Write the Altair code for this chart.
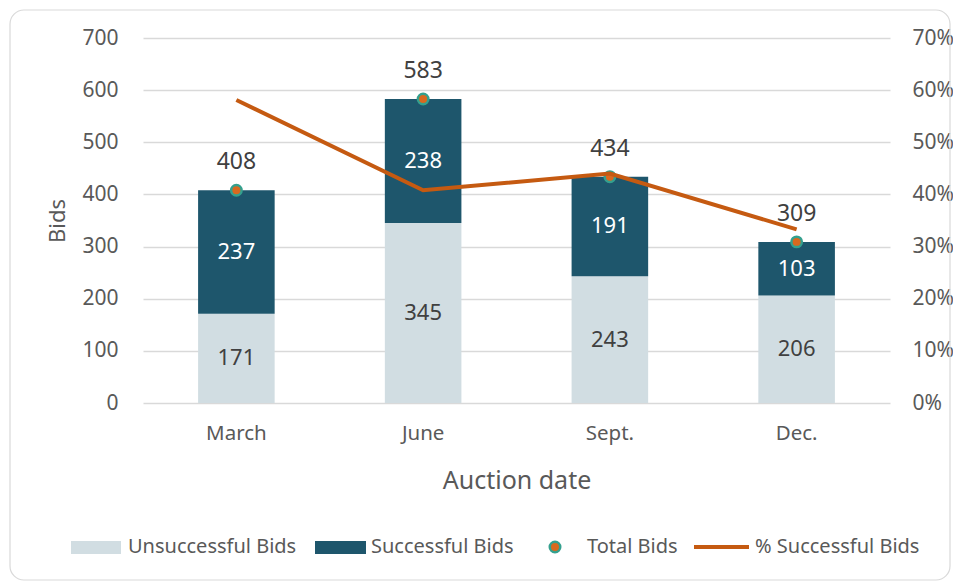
import altair as alt
import pandas as pd

dates = ["March", "June", "Sept.", "Dec."]
unsuccessful = [171, 345, 243, 206]
successful = [237, 238, 191, 103]
total_bids = [408, 583, 434, 309]
pct_successful = [0.581, 0.408, 0.440, 0.333]

series_names = ["Unsuccessful Bids", "Successful Bids"]
colors = ["#d1dde2", "#1e566c"]

rows = []
for i, d in enumerate(dates):
    rows.append({"date": d, "series": series_names[0], "value": unsuccessful[i], "ord": 0})
    rows.append({"date": d, "series": series_names[1], "value": successful[i], "ord": 1})
bars_df = pd.DataFrame(rows)
tot_df = pd.DataFrame({"date": dates, "total": total_bids, "pct": pct_successful})

FONT = "Noto Sans"
GRAY = "#595959"
TICK = 21

x_enc = alt.X("date:N", sort=dates,
              scale=alt.Scale(paddingInner=0.59, paddingOuter=0.295),
              axis=alt.Axis(title="Auction date", labelFontSize=20.5, labelColor=GRAY,
                            titleFontSize=25, titleColor=GRAY, titleFontWeight="normal",
                            labelPadding=20, titlePadding=25, ticks=False, domain=False,
                            labelAngle=0, grid=False))

y_left = alt.Scale(domain=[0, 700])

base_bars = alt.Chart(bars_df).transform_stack(
    stack="value", groupby=["date"], as_=["y0", "y1"],
    sort=[alt.SortField("ord", order="ascending")]
).transform_calculate(mid="(datum.y0 + datum.y1) / 2")

bars = base_bars.mark_bar().encode(
    x=x_enc,
    y=alt.Y("y0:Q", scale=y_left,
            axis=alt.Axis(title="Bids", values=list(range(0, 701, 100)), labelFontSize=TICK,
                          labelColor=GRAY, titleFontSize=22, titleColor=GRAY,
                          titleFontWeight="normal", labelPadding=25, titlePadding=12,
                          ticks=False, domain=False, gridColor="#d9d9d9", gridWidth=1.5)),
    y2="y1:Q",
    color=alt.Color("series:N", scale=alt.Scale(domain=series_names, range=colors), legend=None),
)

bar_text = base_bars.mark_text(fontSize=22, font=FONT, baseline="middle").encode(
    x=alt.X("date:N", sort=dates),
    y=alt.Y("mid:Q", scale=y_left),
    text="value:Q",
    color=alt.condition("datum.ord == 0", alt.value("#404040"), alt.value("#ffffff")),
)

points = alt.Chart(tot_df).mark_point(filled=True, size=110, fill="#d9691f",
                                      stroke="#34a08e", strokeWidth=2.5, opacity=1).encode(
    x=alt.X("date:N", sort=dates),
    y=alt.Y("total:Q", scale=y_left),
)

tot_text = alt.Chart(tot_df).mark_text(fontSize=23, font=FONT, dy=-28, color="#404040",
                                       baseline="middle").encode(
    x=alt.X("date:N", sort=dates),
    y=alt.Y("total:Q", scale=y_left),
    text="total:Q",
)

line = alt.Chart(tot_df).mark_line(color="#c55a11", strokeWidth=4).encode(
    x=alt.X("date:N", sort=dates),
    y=alt.Y("pct:Q", scale=alt.Scale(domain=[0, 0.7]),
            axis=alt.Axis(orient="right", title=None, format=".0%",
                          values=[0, 0.1, 0.2, 0.3, 0.4, 0.5, 0.6, 0.7],
                          labelFontSize=TICK, labelColor=GRAY, labelPadding=22,
                          ticks=False, domain=False, grid=False)),
)

one = alt.Data(values=[{"a": 1}])

frame = alt.Chart(one).mark_rect(fill="transparent", stroke="#d9d9d9", strokeWidth=1.2,
                                 cornerRadius=14).encode(
    x=alt.value(-133), x2=alt.value(807), y=alt.value(-28), y2=alt.value(542))

LY = 509
LFS = 20
leg = [
    alt.Chart(one).mark_rect(color=colors[0]).encode(
        x=alt.value(-72), x2=alt.value(-22), y=alt.value(LY - 6), y2=alt.value(LY + 7)),
    alt.Chart(one).mark_text(text="Unsuccessful Bids", align="left", baseline="middle",
                             fontSize=LFS, font=FONT, color=GRAY).encode(
        x=alt.value(-15), y=alt.value(LY)),
    alt.Chart(one).mark_rect(color=colors[1]).encode(
        x=alt.value(172), x2=alt.value(223), y=alt.value(LY - 6), y2=alt.value(LY + 7)),
    alt.Chart(one).mark_text(text="Successful Bids", align="left", baseline="middle",
                             fontSize=LFS, font=FONT, color=GRAY).encode(
        x=alt.value(228), y=alt.value(LY)),
    alt.Chart(one).mark_point(filled=True, size=110, fill="#d9691f", stroke="#34a08e",
                              strokeWidth=2.5, opacity=1).encode(
        x=alt.value(412), y=alt.value(LY)),
    alt.Chart(one).mark_text(text="Total Bids", align="left", baseline="middle",
                             fontSize=LFS, font=FONT, color=GRAY).encode(
        x=alt.value(444), y=alt.value(LY)),
    alt.Chart(one).mark_rule(color="#c55a11", strokeWidth=4).encode(
        x=alt.value(551), x2=alt.value(606), y=alt.value(LY)),
    alt.Chart(one).mark_text(text="% Successful Bids", align="left", baseline="middle",
                             fontSize=LFS, font=FONT, color=GRAY).encode(
        x=alt.value(612), y=alt.value(LY)),
]

left = alt.layer(bars, bar_text, points, tot_text)

chart = alt.layer(frame, left, line, *leg).resolve_scale(
    y="independent", color="independent"
).properties(
    width=747, height=365,
    autosize=alt.AutoSizeParams(type="none"),
    padding={"left": 135, "top": 30, "right": 63, "bottom": 178},
).configure(
    font=FONT, background="white"
).configure_view(stroke="transparent", strokeWidth=0
).configure_axis(labelFont=FONT, titleFont=FONT, domain=False, ticks=False
).configure_axisX(grid=False)

chart.save("out.html", embed_options={"renderer": "svg", "actions": False})
